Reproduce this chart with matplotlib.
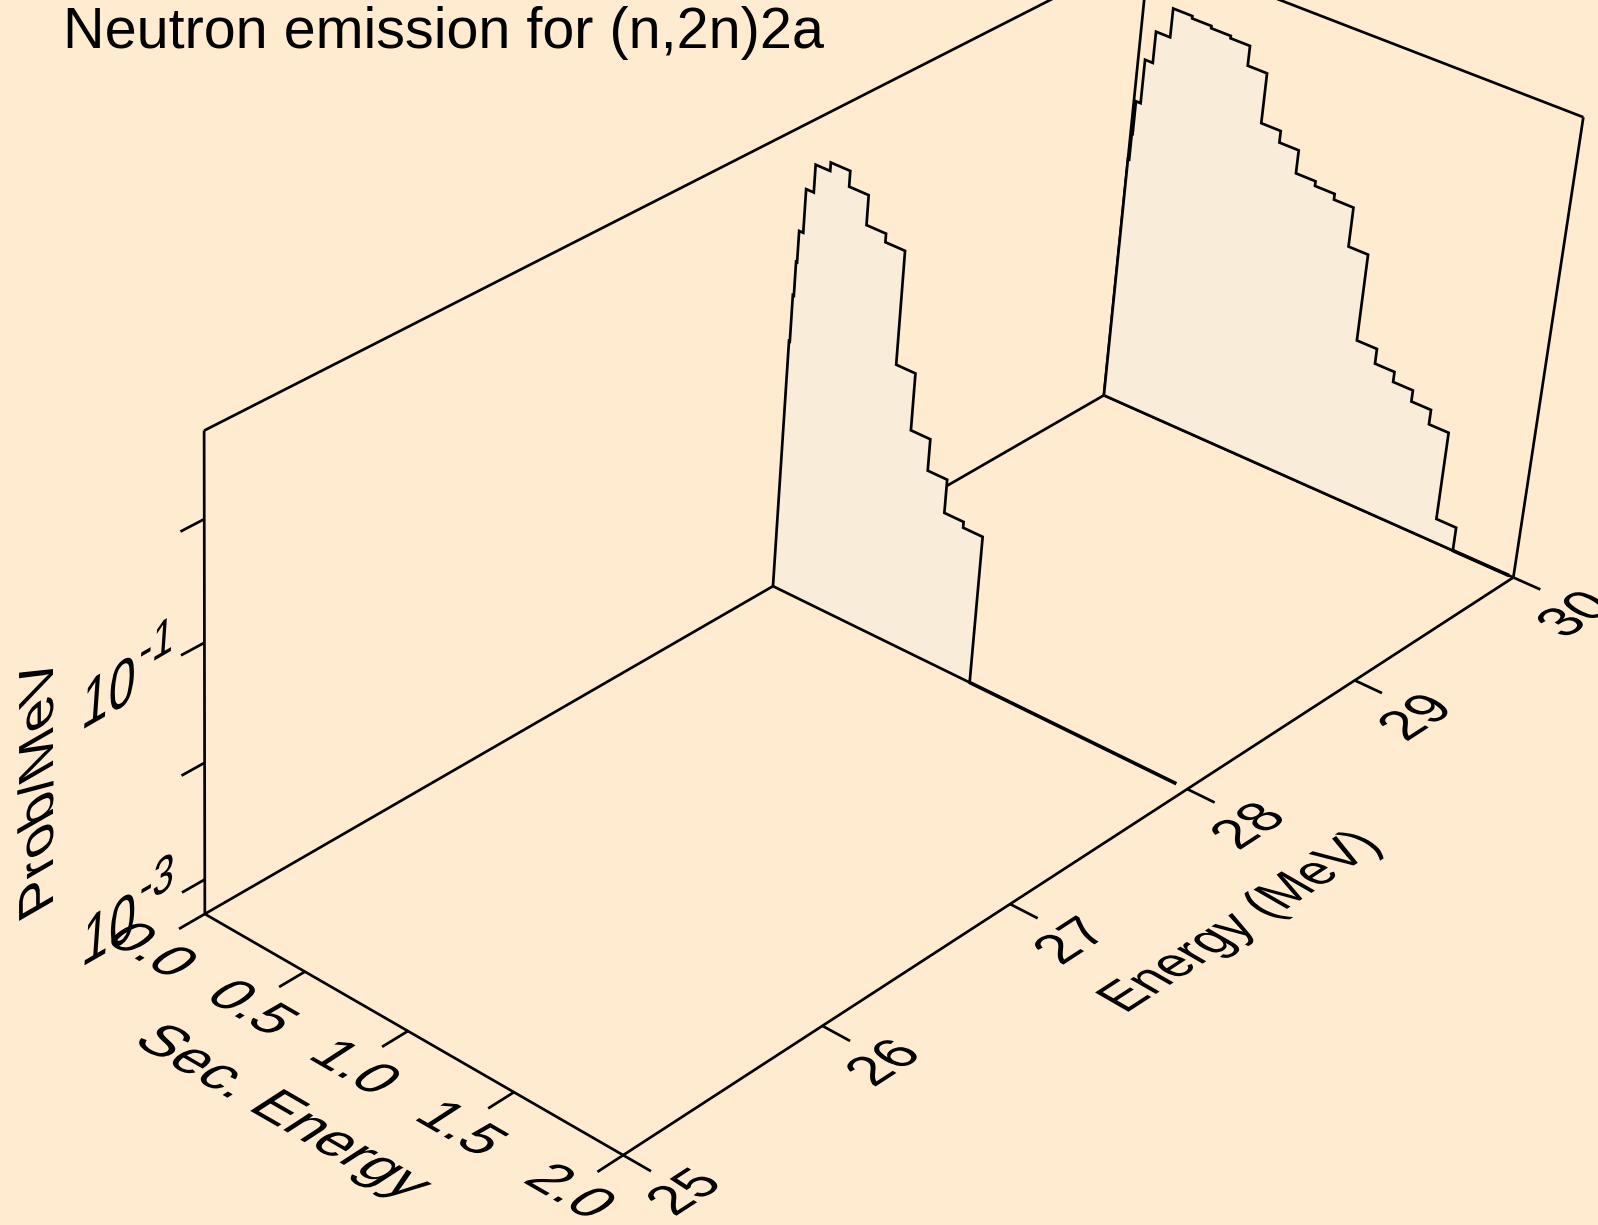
import numpy as np
import matplotlib
matplotlib.use("Agg")
import matplotlib.pyplot as plt
from matplotlib.patheffects import AbstractPathEffect
from matplotlib.transforms import Affine2D

BG = "#FFECD0"
FILL = "#F9ECD9"

sec_28 = [0, .004, .009, .014, .034, .071, .141, .234, .327, .420, .513, .605, .698, .791, .883, .976]
prob_28 = [.076, .19, .37, .68, 1.58, 2.69, 3.16, 2.34, 1.32, 1.12, .123, .040, .0214, .011, .0098]

sec_30 = [0, .006, .010, .033, .071, .140, .233, .326, .420, .513, .605, .698, .790, .883, .976,
          1.068, 1.160, 1.255, 1.347, 1.440, 1.532, 1.624, 1.717]
prob_30 = [.074, .126, .245, .589, 1.10, 1.95, 1.86, 1.78, 1.70, 1.15, .427, .339, .214, .195, .174,
           .0794, .0138, .0102, .0083, .0066, .0049, .00081]

sec_ticks = [0.0, 0.5, 1.0, 1.5, 2.0]
energy_ticks = [25, 26, 27, 28, 29, 30]
prob_ticks = [1e-3, 1e-2, 1e-1, 1.0]
prob_min, prob_max = 5e-4, 5.0

# camera: frame points as read in the reference -> 3x4 projection
cal_3d = [(0,25,-3.3),(2,25,-3.3),(2,30,-3.3),(0,30,-3.3),(0,25,.7),(2,30,.7),(0,30,.7),
          (0,25,-3),(0,25,-2),(0,25,-1),(0,25,0),
          (2,26,-3.3),(2,27,-3.3),(2,28,-3.3),(2,29,-3.3),
          (.5,25,-3.3),(1,25,-3.3),(1.5,25,-3.3)]
cal_px = [(204.3,914),(624,1155.7),(1513.3,577.7),(1104.3,395),(204.3,429),(1583.7,117),(1149,-50),
          (204.3,880),(204.3,763.3),(204.3,642.7),(204.3,520),
          (821.4,1026),(1009,904),(1186,788),(1356,680),
          (305.7,970),(408.7,1031),(514.6,1092.5)]
A, b = [], []
for (s, e, z), (u, v) in zip(cal_3d, cal_px):
    e = e - 25
    A.append([s, e, z, 1, 0, 0, 0, 0, -u*s, -u*e, -u*z]); b.append(u)
    A.append([0, 0, 0, 0, s, e, z, 1, -v*s, -v*e, -v*z]); b.append(v)
CAM = np.append(np.linalg.lstsq(np.array(A), np.array(b), rcond=None)[0], 1).reshape(3, 4)


def proj(s, e, p):
    # s: sec. energy, e: energy, p: prob/MeV (log axis)
    q = CAM @ np.array([s, e - 25, np.log10(p), 1.0])
    return q[:2] / q[2]


class Plane(AbstractPathEffect):
    # lays the glyphs in a plane of the box: baseline and up direction in degrees
    def __init__(self, base, up, sv=1.0):
        super().__init__()
        self.base, self.up, self.sv = np.radians(base), np.radians(up), sv

    def draw_path(self, renderer, gc, tpath, affine, rgbFace=None):
        a, c = self.base, self.up
        m = np.array([[np.cos(a), self.sv*np.cos(c), 0], [np.sin(a), self.sv*np.sin(c), 0], [0, 0, 1]])
        local = Affine2D().rotate(-a).get_matrix() @ m
        renderer.draw_path(gc, tpath, Affine2D(local) + affine, rgbFace)


fig = plt.figure(figsize=(15.98, 12.25), dpi=100, facecolor=BG)
ax = fig.add_axes([0, 0, 1, 1])
ax.set_xlim(0, 1598)
ax.set_ylim(1225, 0)
ax.axis("off")
LW = 1.95


def line3(p0, p1, lw=LW, z=2):
    a, c = proj(*p0), proj(*p1)
    ax.plot([a[0], c[0]], [a[1], c[1]], color="k", lw=lw, zorder=z, solid_capstyle="butt")


def label(xy, txt, base, up, size, sv=1.0):
    ax.text(xy[0], xy[1], txt, fontsize=size, family="Liberation Sans", rotation=base,
            rotation_mode="anchor", ha="left", va="baseline", color="k", zorder=6,
            path_effects=[Plane(base, up, sv)])


# box
line3((0, 25, prob_min), (2, 25, prob_min))
line3((2, 25, prob_min), (2, 30, prob_min))
line3((2, 30, prob_min), (0, 30, prob_min))
line3((0, 30, prob_min), (0, 25, prob_min))
line3((0, 25, prob_min), (0, 25, prob_max))
line3((0, 25, prob_max), (0, 30, prob_max))
line3((0, 30, prob_max), (0, 30, prob_min))
line3((0, 30, prob_max), (2, 30, prob_max))
line3((2, 30, prob_max), (2, 30, prob_min))

# ticks
for s in sec_ticks:
    line3((s, 25, prob_min), (s, 25 - .125, prob_min))
    label(proj(s, 25, prob_min) + np.array([-102, 26]), f"{s:.1f}", -30, 33, 41)
for e in energy_ticks:
    line3((2, e, prob_min), (2 + .125, e, prob_min))
    label(proj(2, e, prob_min) + np.array([51, 62]), str(e), 33, 150, 39, sv=1.04)
for p in prob_ticks:
    line3((0, 25, p), (0, 25 - .11, p))
    if p in (1e-3, 1e-1):
        t = proj(0, 25, p)
        label(t + np.array([-124, 88]), "10", 30, 86, 40, sv=1.25)
        label(t + np.array([-66, 27]), f"{int(np.log10(p))}", 30, 86, 32, sv=1.2)

# spectra, back one first
spectra = [(30, sec_30, prob_30, 1.98), (28, sec_28, prob_28, 1.95)]
for k, (e, sec, prob, end) in enumerate(spectra):
    xs = np.repeat(sec, 2)
    ps = np.r_[prob_min, np.repeat(prob, 2), prob_min]
    pts = np.array([proj(s, e, p) for s, p in zip(xs, ps)])
    ax.fill(pts[:, 0], pts[:, 1], facecolor=FILL, edgecolor="none", zorder=3 + k)
    ax.plot(pts[:, 0], pts[:, 1], color="k", lw=LW, zorder=3 + k, solid_joinstyle="miter")
    line3((0, e, prob_min), (sec[-1], e, prob_min), z=3 + k)
    line3((sec[-1], e, prob_min), (end, e, prob_min), lw=2.6, z=3 + k)

# titles
ax.text(63, 48, "Neutron emission for (n,2n)2a", fontsize=41.4, family="Liberation Sans", color="k", zorder=6)
label((131, 1042), "Sec. Energy", -30, 33, 42)
label((1125, 1014), "Energy (MeV)", 33, 150, 36, sv=1.12)
label((53, 906), "Prob/MeV", 90, 210, 41)

fig.savefig("out.png", dpi=100, facecolor=BG)
